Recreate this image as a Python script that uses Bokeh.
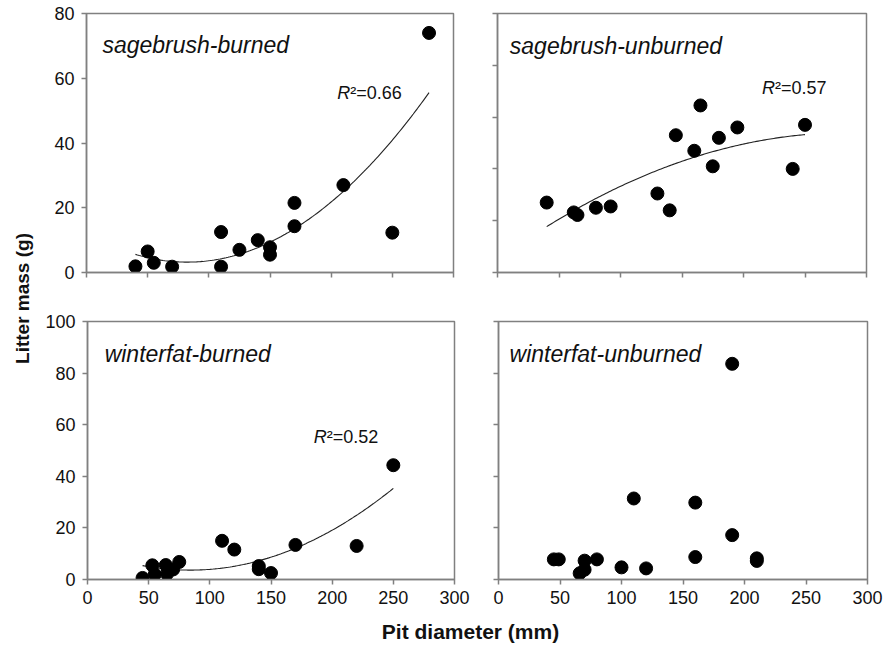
import numpy as np
from bokeh.plotting import figure
from bokeh.layouts import row, column
from bokeh.models import Range1d, Label, FixedTicker, CustomJSTickFormatter
from bokeh.embed import file_html
from bokeh.resources import INLINE

# ---- data ----
x_ticks = [0, 50, 100, 150, 200, 250, 300]

sb_burned_x = [40, 50, 55, 70, 110, 110, 125, 140, 150, 150, 170, 170, 210, 250, 280]
sb_burned_y = [1.9, 6.5, 3.0, 1.8, 12.5, 1.8, 7.0, 10.0, 7.8, 5.5, 21.5, 14.3, 27.0, 12.3, 74.0]

sb_unburned_x = [40, 62, 65, 80, 92, 130, 140, 145, 160, 165, 175, 180, 195, 240, 250]
sb_unburned_y = [27.0, 23.2, 22.2, 25.0, 25.5, 30.5, 24.0, 53.0, 47.0, 64.5, 41.0, 52.0, 56.0, 40.0, 57.0]

wf_burned_x = [45, 53, 55, 64, 65, 70, 75, 110, 120, 140, 140, 150, 170, 220, 250]
wf_burned_y = [0.6, 5.5, 2.0, 5.6, 2.2, 3.9, 6.8, 15.0, 11.6, 5.2, 4.0, 2.5, 13.4, 13.0, 44.3]

wf_unburned_x = [45, 49, 66, 70, 70, 80, 100, 110, 120, 160, 160, 190, 190, 210, 210]
wf_unburned_y = [7.8, 7.8, 2.4, 3.8, 7.3, 7.8, 4.7, 31.4, 4.3, 29.8, 8.7, 83.6, 17.2, 7.2, 8.2]

panel_names = ["sagebrush-burned", "sagebrush-unburned", "winterfat-burned", "winterfat-unburned"]
r2_texts = ["0.66", "0.57", "0.52", None]

FONT = "Liberation Sans"
GREY = "#808080"
INK = "#111111"


def panel(xs, ys, ymax, fw, fh, borders, show_xlab, show_ylab, name, name_xy, r2, r2_xy):
    p = figure(frame_width=fw, frame_height=fh,
               x_range=Range1d(0, 300), y_range=Range1d(0, ymax),
               output_backend="svg", toolbar_location=None, title=None,
               min_border_left=borders[0], min_border_right=borders[1],
               min_border_top=borders[2], min_border_bottom=borders[3])
    p.grid.visible = False
    p.background_fill_color = "white"
    p.border_fill_color = "white"
    p.outline_line_color = GREY
    p.outline_line_width = 1.5
    p.xaxis.ticker = FixedTicker(ticks=x_ticks)
    p.yaxis.ticker = FixedTicker(ticks=list(range(0, ymax + 1, 20)))
    for ax in (p.xaxis[0], p.yaxis[0]):
        ax.axis_line_color = GREY
        ax.axis_line_width = 1.5
        ax.major_tick_line_color = GREY
        ax.major_tick_line_width = 1.5
        ax.major_tick_out = 5
        ax.major_tick_in = 0
        ax.minor_tick_line_color = None
        ax.major_label_text_font = FONT
        ax.major_label_text_font_size = "18px"
        ax.major_label_text_color = INK
    p.xaxis.major_label_standoff = 6
    p.yaxis.major_label_standoff = 7
    if not show_xlab:
        p.xaxis.formatter = CustomJSTickFormatter(code="return ''")
        p.xaxis.major_label_text_font_size = "1px"
    if not show_ylab:
        p.yaxis.formatter = CustomJSTickFormatter(code="return ''")
        p.yaxis.major_label_text_font_size = "1px"

    if r2 is not None:
        coef = np.polyfit(xs, ys, 2)
        xx = np.linspace(min(xs), max(xs), 150)
        p.line(xx, np.polyval(coef, xx), line_color="#222222", line_width=1.1)
    p.scatter(x=xs, y=ys, size=13, fill_color="black", line_color="black")

    p.add_layout(Label(x=name_xy[0], y=name_xy[1], text=name, text_font=FONT,
                       text_font_style="italic", text_font_size="23px", text_color=INK,
                       text_baseline="alphabetic"))
    if r2 is not None:
        p.add_layout(Label(x=r2_xy[0], y=r2_xy[1], text="R", text_font=FONT,
                           text_font_style="italic", text_font_size="18px", text_color=INK,
                           text_baseline="alphabetic"))
        p.add_layout(Label(x=r2_xy[0], y=r2_xy[1], x_offset=13, text="\u00b2=" + r2, text_font=FONT,
                           text_font_size="18px", text_color=INK, text_baseline="alphabetic"))
    return p


tl = panel(sb_burned_x, sb_burned_y, 80, 367, 259, (44, 18, 13, 24), False, True,
           panel_names[0], (13, 70.3), r2_texts[0], (205, 55.3))
tr = panel(sb_unburned_x, sb_unburned_y, 100, 369, 259, (26, 16, 13, 24), False, False,
           panel_names[1], (10, 87.6), r2_texts[1], (215, 71.2))
bl = panel(wf_burned_x, wf_burned_y, 100, 367, 258, (44, 18, 25, 30), True, True,
           panel_names[2], (14, 87.5), r2_texts[2], (185, 55.4))
br = panel(wf_unburned_x, wf_unburned_y, 100, 369, 258, (26, 16, 25, 30), True, False,
           panel_names[3], (9, 87.5), r2_texts[3], None)


def label_fig(w, h):
    f = figure(width=w, height=h, x_range=Range1d(0, w), y_range=Range1d(0, h),
               output_backend="svg", toolbar_location=None, title=None, min_border=0)
    f.axis.visible = False
    f.grid.visible = False
    f.outline_line_color = None
    f.background_fill_color = "white"
    f.border_fill_color = "white"
    return f


XLAB_H = 36
TOTAL_H = 296 + 313 + XLAB_H
top_row = row(tl, tr)
bot_row = row(bl, br)
tot_w = 429 + 411
xlab = label_fig(tot_w, XLAB_H)
xlab.add_layout(Label(x=428, y=14, text="Pit diameter (mm)", text_font=FONT, text_font_style="bold",
                      text_font_size="21px", text_color=INK, text_align="center",
                      text_baseline="alphabetic"))
ylab = label_fig(42, TOTAL_H)
ylab.add_layout(Label(x=22, y=TOTAL_H - 298, text="Litter mass (g)", text_font=FONT, text_font_style="bold",
                      text_font_size="19px", text_color=INK, text_align="center",
                      text_baseline="middle", angle=np.pi / 2))

layout = row(ylab, column(top_row, bot_row, xlab))

open("out.html", "w").write(file_html(layout, INLINE))
